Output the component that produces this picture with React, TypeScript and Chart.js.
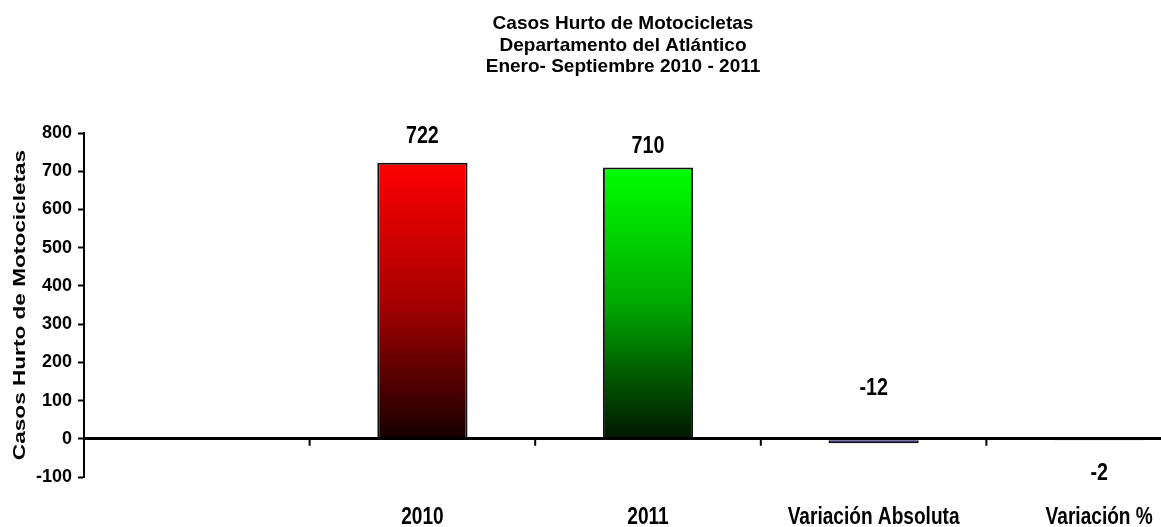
import React, { useEffect, useRef } from "react";
import { Chart, registerables } from "chart.js";

Chart.register(...registerables);

// ---- data ----
const categories: string[] = ["", "2010", "2011", "Variación Absoluta", "Variación %"];
const values: (number | null)[] = [null, 722, 710, -12, -2];
const valueLabels: string[] = ["", "722", "710", "-12", "-2"];
const titleLines: string[] = [
  "Casos Hurto de Motocicletas",
  "Departamento del Atlántico",
  "Enero- Septiembre 2010 - 2011",
];
const yAxisTitle = "Casos Hurto de Motocicletas";
const yMin = -100;
const yMax = 800;
const yStep = 100;

// ---- styles ----
const gradientStops: string[][] = [
  ["#000000", "#000000", "#000000"],
  ["#FF0000", "#A80000", "#160000"],
  ["#00FF00", "#00A800", "#001600"],
  ["#10107A", "#0A0A60", "#050540"],
  ["#000040", "#000030", "#000020"],
];
const labelShift: number[] = [0, -20, -14, -48, 40];
const FONT = '"Liberation Sans", Arial, Helvetica, sans-serif';

const textPlugin = {
  id: "customText",
  afterDraw(chart: any) {
    const ctx = chart.ctx as CanvasRenderingContext2D;
    const xs = chart.scales.x;
    const ys = chart.scales.y;
    const area = chart.chartArea;
    ctx.save();
    ctx.fillStyle = "#000";
    ctx.textBaseline = "alphabetic";
    ctx.textAlign = "center";

    // main title
    ctx.font = `bold 19px ${FONT}`;
    titleLines.forEach((line, i) => {
      ctx.fillText(line, chart.width / 2, 29 + i * 21.5);
    });

    // y-axis title (stretched along text direction)
    ctx.save();
    ctx.translate(25, (area.top + area.bottom) / 2);
    ctx.rotate(-Math.PI / 2);
    ctx.scale(1.33, 1);
    ctx.font = `bold 17px ${FONT}`;
    ctx.fillText(yAxisTitle, 0, 0);
    ctx.restore();

    // category labels (condensed)
    categories.forEach((c, i) => {
      if (!c) return;
      const x = xs.getPixelForValue(i);
      ctx.save();
      ctx.translate(x, area.bottom + 46.5);
      ctx.scale(0.83, 1);
      ctx.font = `bold 23px ${FONT}`;
      ctx.fillText(c, 0, 0);
      ctx.restore();
    });

    // value labels
    const meta = chart.getDatasetMeta(0);
    meta.data.forEach((bar: any, i: number) => {
      if (values[i] === null) return;
      ctx.save();
      ctx.translate(bar.x, bar.y + labelShift[i]);
      ctx.scale(0.82, 1);
      ctx.font = `bold 24px ${FONT}`;
      ctx.fillText(valueLabels[i], 0, 0);
      ctx.restore();
    });

    // category boundary tick marks on the zero line
    const y0 = ys.getPixelForValue(0);
    ctx.strokeStyle = "#000";
    ctx.lineWidth = 2;
    for (let i = 0; i < categories.length - 1; i++) {
      const xb = (xs.getPixelForValue(i) + xs.getPixelForValue(i + 1)) / 2;
      ctx.beginPath();
      ctx.moveTo(xb, y0);
      ctx.lineTo(xb, y0 + 7);
      ctx.stroke();
    }
    ctx.restore();
  },
};

export default function App() {
  const ref = useRef<HTMLCanvasElement | null>(null);

  useEffect(() => {
    if (!ref.current) return;
    const chart = new Chart(ref.current, {
      type: "bar",
      data: {
        labels: categories,
        datasets: [
          {
            data: values as any,
            backgroundColor: (c: any) => {
              const chart = c.chart;
              const area = chart.chartArea;
              const i = c.dataIndex;
              const stops = gradientStops[i] || gradientStops[0];
              if (!area || c.type !== "data" || values[i] === null) return stops[1];
              const ys = chart.scales.y;
              const v = values[i] as number;
              const yv = ys.getPixelForValue(v);
              const yz = ys.getPixelForValue(0);
              if (Math.abs(yv - yz) < 1) return stops[0];
              const g = chart.ctx.createLinearGradient(0, Math.min(yv, yz), 0, Math.max(yv, yz));
              g.addColorStop(0, stops[0]);
              g.addColorStop(0.5, stops[1]);
              g.addColorStop(1, stops[2]);
              return g;
            },
            borderColor: "#111111",
            borderWidth: 2,
            barPercentage: 0.4,
            categoryPercentage: 1,
          },
        ],
      },
      options: {
        animation: false,
        responsive: false,
        devicePixelRatio: 1,
        layout: { padding: { top: 133, right: 34, bottom: 0, left: 0 } },
        plugins: {
          legend: { display: false },
          title: { display: false },
          tooltip: { enabled: false },
        },
        scales: {
          x: {
            type: "category",
            offset: true,
            grid: { display: false },
            border: { display: false },
            ticks: { display: false },
            afterFit: (s: any) => {
              s.height = 50;
            },
          },
          y: {
            min: yMin,
            max: yMax,
            z: 1,
            ticks: {
              stepSize: yStep,
              color: "#000",
              padding: 6,
              font: { family: FONT, size: 18, weight: "bold" },
            },
            grid: {
              drawOnChartArea: true,
              drawTicks: true,
              tickLength: 6,
              tickColor: "#000",
              tickWidth: 2,
              color: (c: any) => (c.tick && c.tick.value === 0 ? "#000" : "rgba(0,0,0,0)"),
              lineWidth: (c: any) => (c.tick && c.tick.value === 0 ? 3 : 1),
            },
            border: { display: true, color: "#000", width: 2 },
            afterFit: (s: any) => {
              s.width = 84;
            },
          },
        },
      },
      plugins: [textPlugin],
    });
    return () => chart.destroy();
  }, []);

  return (
    <div
      style={{
        position: "fixed",
        left: 0,
        top: 0,
        width: 1161,
        height: 527,
        overflow: "hidden",
        background: "#fff",
      }}
    >
      <canvas ref={ref} width={1246} height={527} style={{ display: "block", width: 1246, height: 527 }} />
    </div>
  );
}
